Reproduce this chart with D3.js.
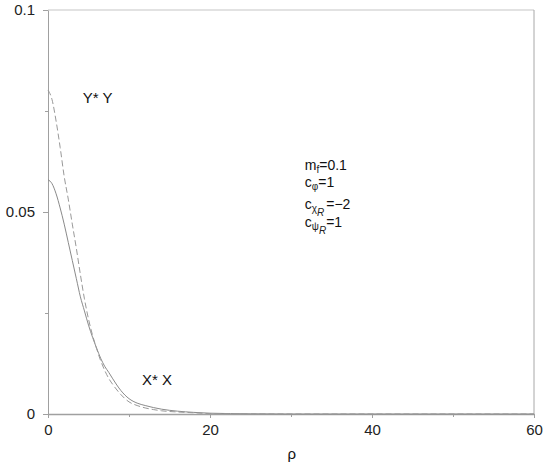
<!DOCTYPE html>
<meta charset="utf-8">
<style>
  body { margin: 0; background: #fff; }
  text { font-family: "Liberation Sans", Arial, sans-serif; }
  .axis path, .axis line { stroke: #a0a0a0; }
  .axis text { fill: #222; font-size: 15px; }
  .curve { fill: none; stroke: #8a8a8a; stroke-width: 1; }
  .curve.yy { stroke-dasharray: 6,3; stroke: #999; }
  .label { fill: #111; font-size: 15px; }
  .note { fill: #111; font-size: 14px; }
  .note .sub { font-size: 10px; fill: #222; }
</style>
<body>
<script src="https://cdn.jsdelivr.net/npm/d3@7"></script>
<script>

var width = 545,
    height = 471;

var margin = {top: 10, right: 11, bottom: 57, left: 48};

// rho values
var rho = [0, 0.5, 1, 1.5, 2, 2.5, 3, 3.5, 4, 4.5, 5, 5.5, 6, 6.5, 7, 7.5, 8, 9, 10, 11, 12, 13, 14, 16, 18, 20, 25, 30, 60];

// X* X (solid)
var xx = [0.058, 0.057, 0.0545, 0.051, 0.047, 0.0425, 0.038, 0.0335, 0.029, 0.0255, 0.022, 0.019, 0.0163, 0.0138,
          0.0118, 0.0103, 0.0087, 0.0058, 0.0038, 0.0027, 0.0021, 0.0016, 0.0012, 0.0007, 0.0004, 0.0002, 0.00005, 0, 0];

// Y* Y (dashed)
var yy = [0.0802, 0.0778, 0.0725, 0.066, 0.0588, 0.0532, 0.047, 0.041, 0.0345, 0.0285, 0.0235, 0.0195, 0.0162, 0.0132,
          0.0108, 0.0088, 0.0073, 0.0048, 0.003, 0.0021, 0.0015, 0.0011, 0.0008, 0.0005, 0.0003, 0.0001, 0.00003, 0, 0];

var xTicks = [0, 20, 40, 60],
    xMinor = [10, 30, 50],
    yTicks = [0, 0.05, 0.1],
    yTickLabels = ["0", "0.05", "0.1"],
    yMinor = [0.025, 0.075];

var svg = d3.select("body").append("svg")
    .attr("width", width)
    .attr("height", height);

var w = width - margin.left - margin.right,
    h = height - margin.top - margin.bottom;

var g = svg.append("g")
    .attr("transform", "translate(" + margin.left + "," + margin.top + ")");

var x = d3.scaleLinear().domain([0, 60]).range([0, w]);
var y = d3.scaleLinear().domain([0, 0.1]).range([h, 0]);

// frame: top and right edges
g.append("line")
    .attr("x1", 0).attr("x2", w).attr("y1", 0).attr("y2", 0)
    .attr("stroke", "#d9d9d9").attr("stroke-width", 1.5);
g.append("line")
    .attr("x1", w).attr("x2", w).attr("y1", 0).attr("y2", h)
    .attr("stroke", "#a8a8a8");

// minor ticks
g.append("g").attr("class", "axis")
    .attr("transform", "translate(0," + h + ")")
    .call(d3.axisBottom(x).tickValues(xMinor).tickSize(3).tickFormat(""))
    .select(".domain").remove();
g.append("g").attr("class", "axis")
    .call(d3.axisLeft(y).tickValues(yMinor).tickSize(3).tickFormat(""))
    .select(".domain").remove();

var xAxis = g.append("g").attr("class", "axis")
    .attr("transform", "translate(0," + h + ")")
    .call(d3.axisBottom(x).tickValues(xTicks).tickSize(4).tickSizeOuter(0).tickPadding(6));
xAxis.select(".domain").attr("stroke", "#b5b5b5").attr("stroke-width", 1.5);

var yAxis = g.append("g").attr("class", "axis")
    .call(d3.axisLeft(y).tickValues(yTicks).tickSize(5).tickSizeOuter(0).tickPadding(8)
      .tickFormat(function(d, i) { return yTickLabels[i]; }));

var line = d3.line()
    .x(function(d) { return x(d[0]); })
    .y(function(d) { return y(d[1]); })
    .curve(d3.curveMonotoneX);

g.append("path")
    .attr("class", "curve xx")
    .attr("d", line(d3.zip(rho, xx)));

g.append("path")
    .attr("class", "curve yy")
    .attr("d", line(d3.zip(rho, yy)));

// curve labels
g.append("text").attr("class", "label")
    .attr("x", x(4.3)).attr("y", y(0.077))
    .text("Y* Y");
g.append("text").attr("class", "label")
    .attr("x", x(11.6)).attr("y", y(0.0072))
    .text("X* X");

// axis title
svg.append("text").attr("class", "label")
    .attr("x", margin.left + x(30.1)).attr("y", 459)
    .attr("text-anchor", "middle")
    .text("ρ");

// parameter block
var note = g.append("text").attr("class", "note")
    .attr("transform", "translate(" + x(31.7) + "," + y(0.0604) + ")");

var t1 = note.append("tspan").attr("x", 0).attr("y", 0);
t1.append("tspan").text("m");
t1.append("tspan").attr("class", "sub").attr("dy", 3).text("f");
t1.append("tspan").attr("dy", -3).text("=0.1");

var t2 = note.append("tspan").attr("x", 0).attr("y", 17);
t2.append("tspan").text("c");
t2.append("tspan").attr("class", "sub").attr("dy", 3).text("φ");
t2.append("tspan").attr("dy", -3).text("=1");

var t3 = note.append("tspan").attr("x", 0).attr("y", 39);
t3.append("tspan").text("c");
t3.append("tspan").attr("class", "sub").attr("dy", 3).text("χ");
t3.append("tspan").attr("class", "sub").attr("dy", 4).attr("font-style", "italic").text("R");
t3.append("tspan").attr("dy", -7).attr("dx", 2).text("=−2");

var t4 = note.append("tspan").attr("x", 0).attr("y", 57);
t4.append("tspan").text("c");
t4.append("tspan").attr("class", "sub").attr("dy", 3).text("ψ");
t4.append("tspan").attr("class", "sub").attr("dy", 4).attr("font-style", "italic").text("R");
t4.append("tspan").attr("dy", -7).text("=1");

</script>
